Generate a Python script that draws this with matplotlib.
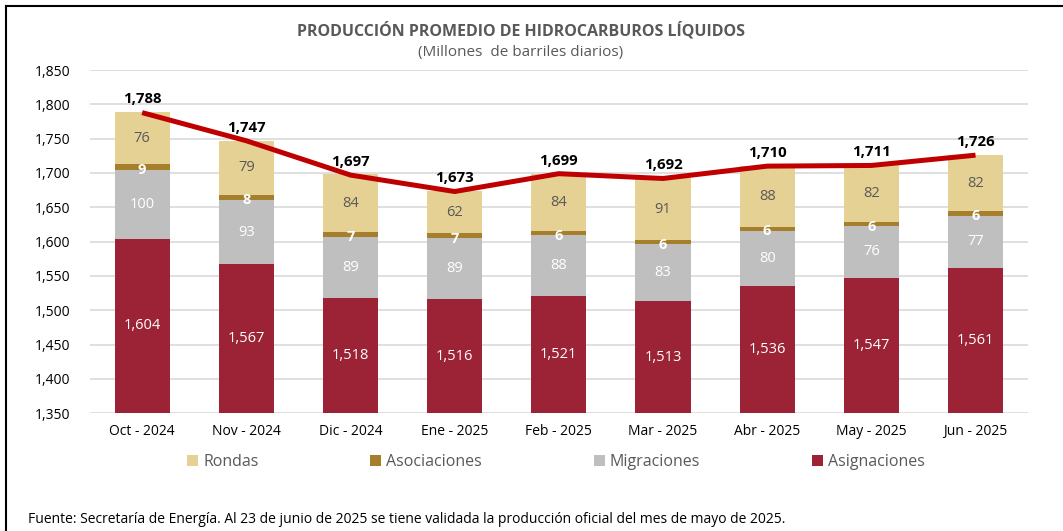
import numpy as np
import matplotlib
matplotlib.use("Agg")
import matplotlib.pyplot as plt
from matplotlib.lines import Line2D

plt.rcParams['font.family'] = ['Open Sans', 'DejaVu Sans']

meses = ["Oct - 2024", "Nov - 2024", "Dic - 2024", "Ene - 2025", "Feb - 2025",
         "Mar - 2025", "Abr - 2025", "May - 2025", "Jun - 2025"]
asignaciones = [1604, 1567, 1518, 1516, 1521, 1513, 1536, 1547, 1561]
migraciones = [100, 93, 89, 89, 88, 83, 80, 76, 77]
asociaciones = [9, 8, 7, 7, 6, 6, 6, 6, 6]
rondas = [76, 79, 84, 62, 84, 91, 88, 82, 82]
total = [1788, 1747, 1697, 1673, 1699, 1692, 1710, 1711, 1726]

c_asig = "#9B2335"
c_migr = "#BFBFBF"
c_asoc = "#A57F2C"
c_rond = "#E6D194"
c_line = "#C00000"
gris = "#595959"

fig = plt.figure(figsize=(10.63, 5.31), dpi=100)
ax = fig.add_axes([0.0847, 0.222, 0.882, 0.646])

x = np.arange(len(meses))
w = 0.53
asig = np.array(asignaciones)
migr = np.array(migraciones)
asoc = np.array(asociaciones)
rond = np.array(rondas)

ax.bar(x, asig, w, color=c_asig, label="Asignaciones", zorder=2)
ax.bar(x, migr, w, bottom=asig, color=c_migr, label="Migraciones", zorder=2)
ax.bar(x, asoc, w, bottom=asig + migr, color=c_asoc, label="Asociaciones", zorder=2)
ax.bar(x, rond, w, bottom=asig + migr + asoc, color=c_rond, label="Rondas", zorder=2)
ax.plot(x, total, color=c_line, lw=3.6, solid_capstyle='butt', zorder=3)

fs = 10.5
for i in range(len(x)):
    ax.text(x[i], 1350 + (asig[i] - 1350) / 2, f"{asig[i]:,}", ha='center', va='center',
            color='white', fontsize=fs, zorder=4)
    ax.text(x[i], asig[i] + migr[i] / 2, f"{migr[i]}", ha='center', va='center',
            color='white', fontsize=fs, zorder=4)
    ax.text(x[i], asig[i] + migr[i] + asoc[i] / 2 - 4, f"{asoc[i]}", ha='center', va='center',
            color='white', fontsize=fs, fontweight='bold', zorder=4)
    ax.text(x[i], asig[i] + migr[i] + asoc[i] + rond[i] / 2, f"{rond[i]}", ha='center',
            va='center', color=gris, fontsize=fs, zorder=4)
    ax.text(x[i], total[i] + 9, f"{total[i]:,}", ha='center', va='bottom',
            color='black', fontsize=10.8, fontweight='bold', zorder=4)

ax.set_xlim(-0.5, len(x) - 0.5)
ax.set_ylim(1350, 1850)
ax.set_yticks(np.arange(1350, 1851, 50))
ax.set_yticklabels([f"{v:,}" for v in range(1350, 1851, 50)])
ax.set_xticks(x)
ax.set_xticklabels(meses)
ax.tick_params(axis='both', length=0, labelsize=10, colors='black', pad=8)
ax.tick_params(axis='y', pad=14)
ax.grid(axis='y', color='#D9D9D9', lw=1.2, zorder=0)
for s in ax.spines.values():
    s.set_visible(False)

handles, labels = ax.get_legend_handles_labels()
order = [3, 2, 1, 0]
leg = fig.legend([handles[k] for k in order], [labels[k] for k in order],
                 loc='center', bbox_to_anchor=(0.523, 0.13), ncol=4, frameon=False,
                 fontsize=11.5, handlelength=0.7, handleheight=0.7, handletextpad=0.3,
                 columnspacing=7.0)
for t in leg.get_texts():
    t.set_color(gris)

fig.text(0.49, 0.943, "PRODUCCIÓN PROMEDIO DE HIDROCARBUROS LÍQUIDOS", ha='center',
         va='center', fontsize=11.5, fontweight='bold', color=gris)
fig.text(0.49, 0.902, "(Millones  de barriles diarios)", ha='center', va='center',
         fontsize=11, color=gris)
fig.text(0.026, 0.022, "Fuente: Secretaría de Energía. Al 23 de junio de 2025 se tiene validada "
         "la producción oficial del mes de mayo de 2025.", ha='left', va='center',
         fontsize=10, color='black')

fig.add_artist(Line2D([0.006, 1.0], [0.989, 0.989], color='black', lw=1.5))
fig.add_artist(Line2D([0.006, 0.006], [0.0, 0.989], color='black', lw=1.5))

fig.savefig("out.png", dpi=100)
